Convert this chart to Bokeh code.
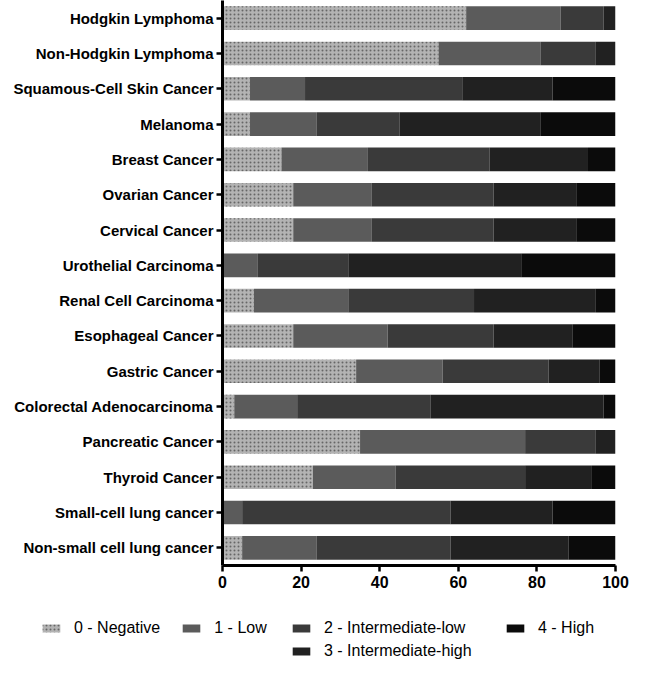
from bokeh.plotting import figure
from bokeh.layouts import column
from bokeh.models import ColumnDataSource, FactorRange, Range1d, Legend, LegendItem, FixedTicker
from bokeh.embed import file_html
from bokeh.resources import INLINE

cancers = ["Hodgkin Lymphoma", "Non-Hodgkin Lymphoma", "Squamous-Cell Skin Cancer", "Melanoma",
           "Breast Cancer", "Ovarian Cancer", "Cervical Cancer", "Urothelial Carcinoma",
           "Renal Cell Carcinoma", "Esophageal Cancer", "Gastric Cancer", "Colorectal Adenocarcinoma",
           "Pancreatic Cancer", "Thyroid Cancer", "Small-cell lung cancer", "Non-small cell lung cancer"]
negative = [62, 55, 7, 7, 15, 18, 18, 0, 8, 18, 34, 3, 35, 23, 0, 5]
low = [24, 26, 14, 17, 22, 20, 20, 9, 24, 24, 22, 16, 42, 21, 5, 19]
int_low = [11, 14, 40, 21, 31, 31, 31, 23, 32, 27, 27, 34, 18, 33, 53, 34]
int_high = [3, 5, 23, 36, 25, 21, 21, 44, 31, 20, 13, 44, 5, 17, 26, 30]
high = [0, 0, 16, 19, 7, 10, 10, 24, 5, 11, 4, 3, 0, 6, 16, 12]
series_keys = ["negative", "low", "int_low", "int_high", "high"]
series_labels = ["0 - Negative", "1 - Low", "2 - Intermediate-low", "3 - Intermediate-high", "4 - High"]
colors = ["#b3b3b3", "#5b5b5b", "#3a3a3a", "#212121", "#0b0b0b"]
x_ticks = [0, 20, 40, 60, 80, 100]

HATCH = dict(hatch_pattern="dot", hatch_color="#666666", hatch_scale=4, hatch_weight=1)

source = ColumnDataSource(dict(cancer=cancers, negative=negative, low=low, int_low=int_low,
                               int_high=int_high, high=high))

p = figure(width=629, height=600, output_backend="svg", toolbar_location=None,
           y_range=FactorRange(factors=list(reversed(cancers))), x_range=Range1d(0, 100),
           min_border_left=222, min_border_right=14, min_border_top=0, min_border_bottom=35,
           frame_align=False)
p.outline_line_color = None
p.grid.visible = False

rs = p.hbar_stack(series_keys, y="cancer", height=0.67, color=colors, line_color=None, source=source)
for k, v in HATCH.items():
    setattr(rs[0].glyph, k, v)

for ax in (p.xaxis[0], p.yaxis[0]):
    ax.axis_line_width = 3
    ax.axis_line_color = "black"
    ax.major_tick_line_width = 2.5
    ax.major_tick_line_color = "black"
    ax.major_tick_in = 0
    ax.major_tick_out = 6
    ax.minor_tick_line_color = None
    ax.major_label_text_font = "Liberation Sans"
    ax.major_label_text_font_style = "bold"
    ax.major_label_text_color = "black"

p.yaxis.major_label_text_font_size = "15px"
p.yaxis.major_label_standoff = 3
p.xaxis.major_label_text_font_size = "16px"
p.xaxis.major_label_standoff = 4
p.xaxis.ticker = FixedTicker(ticks=x_ticks)

# legend panel below the chart (its swatches are off-range, only the legend shows)
lf = figure(width=629, height=62, output_backend="svg", toolbar_location=None,
            x_range=Range1d(0, 1), y_range=Range1d(0, 1), min_border=0,
            min_border_left=0, min_border_right=0, min_border_top=0, min_border_bottom=0,
            frame_align=False)
lf.axis.visible = False
lf.grid.visible = False
lf.outline_line_color = None
offrange = ColumnDataSource(dict(y=[-10], right=[-10]))
lrs = []
for i, c in enumerate(colors):
    extra = HATCH if i == 0 else {}
    lrs.append(lf.hbar(y="y", right="right", height=0.5, fill_color=c, line_color=None,
                       source=offrange, **extra))


def add_legend(idx, loc, orientation, spacing):
    items = [LegendItem(label=series_labels[i], renderers=[lrs[i]]) for i in idx]
    lg = Legend(items=items, location=loc, orientation=orientation, glyph_width=22, glyph_height=10,
                label_standoff=12, spacing=spacing, padding=0, margin=0, border_line_color=None,
                background_fill_alpha=0, label_text_font="Liberation Sans",
                label_text_font_size="16px", label_height=20, label_text_color="black")
    lf.add_layout(lg, "center")


add_legend([0, 1], (40, 24), "horizontal", 20)
add_legend([2, 3], (290, 1), "vertical", 3)
add_legend([4], (504, 24), "horizontal", 0)

layout = column(p, lf, spacing=0)
open("out.html", "w").write(file_html(layout, INLINE))
